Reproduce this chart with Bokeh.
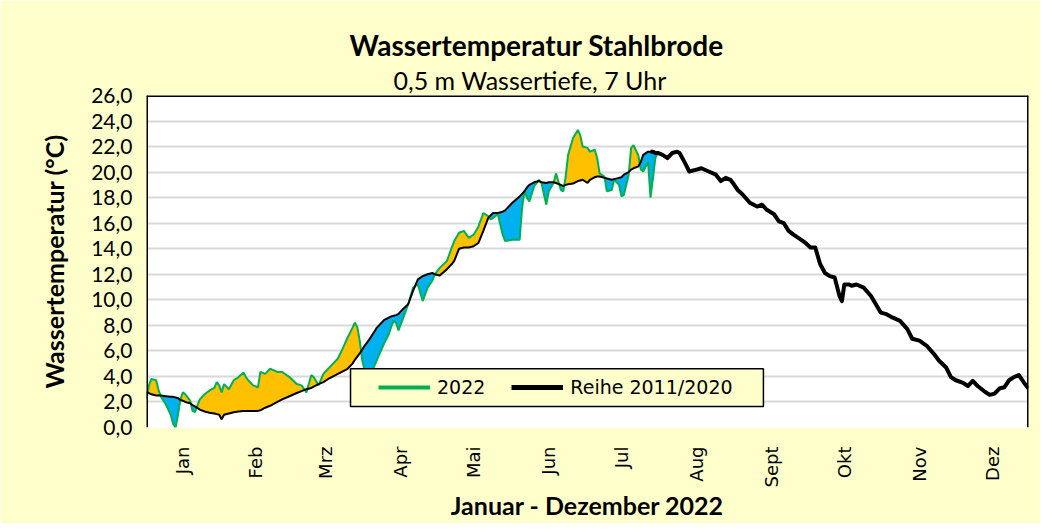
import numpy as np
from bokeh.plotting import figure
from bokeh.models import Range1d, FixedTicker, Legend, LegendItem, BoxAnnotation, Span, Title
from bokeh.embed import file_html
from bokeh.resources import INLINE

# ---------------- data ----------------
months = ["Jan", "Feb", "Mrz", "Apr", "Mai", "Jun", "Jul", "Aug", "Sept", "Okt", "Nov", "Dez"]
month_ticks = [16, 46, 75, 106, 136, 167, 197, 228, 259, 289, 320, 350]

# day of year for the period with 2022 measurements
days_2022 = [1, 2, 3, 5, 6, 7, 9, 11, 12, 13,
             14, 15, 16, 17, 19, 20, 21, 23, 25, 27,
             29, 30, 31, 32, 33, 35, 37, 39, 41, 42,
             43, 45, 47, 48, 50, 52, 55, 57, 60, 63,
             65, 67, 69, 70, 72, 74, 76, 78, 80, 82,
             84, 86, 87, 88, 89, 90, 91, 93, 95, 96,
             99, 101, 102, 103, 104, 105, 107, 109, 111, 113,
             115, 117, 119, 120, 122, 125, 127, 128, 130, 132,
             134, 136, 138, 140, 142, 143, 144, 146, 148, 149,
             152, 155, 156, 157, 158, 159, 161, 163, 164, 166,
             167, 169, 170, 172, 173, 174, 175, 177, 179, 180,
             181, 183, 184, 186, 187, 188, 190, 191, 193, 194,
             196, 197, 198, 200, 201, 202, 204, 205, 206, 208,
             209, 210, 211, 212]

temp_2022 = [2.2, 3.3, 3.8, 3.7, 2.9, 2.4, 1.8, 1.0, 0.3, 0.0,
             1.0, 2.2, 2.75, 2.6, 2.1, 1.3, 1.2, 2.2, 2.6, 2.9,
             3.1, 3.55, 3.3, 2.75, 3.4, 3.0, 3.7, 3.95, 4.3, 3.95,
             3.7, 3.3, 3.15, 4.35, 4.2, 4.6, 4.35, 4.35, 3.95, 3.4,
             3.3, 2.75, 4.1, 3.95, 3.3, 4.2, 4.6, 5.0, 5.4, 6.2,
             7.05, 7.8, 8.2, 7.85, 6.8, 5.3, 4.5, 4.1, 4.8, 5.25,
             6.55, 7.3, 7.9, 8.35, 8.2, 7.6, 8.6, 9.65, 10.95, 11.2,
             9.9, 10.95, 11.5, 12.0, 12.5, 13.05, 14.1, 14.6, 15.25, 15.4,
             14.85, 15.1, 15.75, 16.8, 16.55, 16.3, 16.4, 16.7, 15.1, 14.6,
             14.7, 14.7, 17.2, 18.5, 18.0, 17.7, 18.9, 19.4, 19.15, 17.45,
             18.5, 19.15, 19.9, 18.6, 18.5, 19.65, 21.35, 22.65, 23.3, 22.9,
             22.0, 21.9, 21.6, 21.75, 21.1, 19.9, 19.65, 18.5, 18.6, 19.4,
             19.0, 18.1, 18.2, 19.8, 21.9, 22.1, 21.3, 20.2, 20.05, 20.8,
             18.0, 19.5, 21.1, 21.5]

# long-term series 2011/2020 on the same days
ref_2022_period = [2.8, 2.7, 2.6, 2.5, 2.5, 2.5, 2.45, 2.4, 2.4, 2.35,
                   2.3, 2.15, 2.1, 2.0, 1.9, 1.75, 1.65, 1.4, 1.25, 1.15,
                   1.1, 1.05, 1.0, 0.65, 1.0, 1.1, 1.2, 1.25, 1.3, 1.3,
                   1.3, 1.3, 1.3, 1.35, 1.55, 1.7, 2.0, 2.2, 2.45, 2.7,
                   2.85, 3.0, 3.1, 3.2, 3.4, 3.55, 3.8, 4.0, 4.2, 4.4,
                   4.6, 5.0, 5.3, 5.55, 5.8, 6.1, 6.4, 6.9, 7.5, 7.8,
                   8.4, 8.6, 8.7, 8.75, 8.8, 8.9, 9.3, 9.65, 10.7, 11.6,
                   11.85, 12.0, 12.1, 12.0, 11.9, 12.4, 12.8, 13.05, 14.0, 14.1,
                   14.1, 14.2, 14.45, 15.4, 16.4, 16.6, 16.8, 16.8, 16.9, 17.0,
                   17.6, 18.1, 18.3, 18.5, 18.8, 19.0, 19.2, 19.3, 19.2, 19.15,
                   19.2, 19.2, 19.15, 19.0, 18.9, 19.0, 19.05, 19.1, 19.3, 19.35,
                   19.4, 19.15, 19.4, 19.6, 19.65, 19.65, 19.55, 19.5, 19.4, 19.45,
                   19.55, 19.6, 19.8, 20.0, 20.2, 20.3, 20.45, 20.8, 21.35, 21.6,
                   21.6, 21.6, 21.5, 21.5]

# long-term series for the rest of the year
days_rest = [214, 216, 218, 220, 221, 223, 225, 228, 230, 233,
             236, 238, 240, 242, 243, 245, 247, 250, 253, 255,
             257, 260, 262, 264, 266, 268, 270, 273, 275, 277,
             279, 281, 283, 285, 287, 288, 289, 291, 292, 294,
             297, 300, 302, 304, 306, 309, 312, 315, 317, 320,
             323, 326, 328, 331, 333, 335, 338, 340, 342, 344,
             347, 349, 351, 353, 355, 357, 359, 361, 363, 365]
ref_rest = [21.35, 21.1, 21.5, 21.6, 21.5, 20.8, 20.05, 20.2, 20.3, 20.05,
            19.8, 19.3, 19.55, 19.4, 19.15, 18.6, 18.25, 17.6, 17.3, 17.45,
            17.05, 16.7, 16.15, 16.0, 15.4, 15.1, 14.85, 14.45, 14.1, 14.1,
            12.8, 12.1, 11.85, 11.75, 10.3, 9.9, 11.2, 11.2, 11.1, 11.2,
            10.95, 10.3, 9.65, 9.0, 8.9, 8.6, 8.35, 7.7, 6.95, 6.8,
            6.4, 5.75, 5.25, 4.7, 3.95, 3.7, 3.5, 3.25, 3.65, 3.25,
            2.8, 2.55, 2.65, 3.05, 3.15, 3.7, 3.95, 4.1, 3.55, 3.05]

y_ticks = list(range(0, 27, 2))

# ---------------- helpers ----------------
def with_crossings(x, g, r):
    xs, gs, rs = [x[0]], [g[0]], [r[0]]
    for i in range(1, len(x)):
        d0 = g[i - 1] - r[i - 1]
        d1 = g[i] - r[i]
        if d0 * d1 < 0:
            t = d0 / (d0 - d1)
            xc = x[i - 1] + t * (x[i] - x[i - 1])
            yc = r[i - 1] + t * (r[i] - r[i - 1])
            xs.append(xc); gs.append(yc); rs.append(yc)
        xs.append(x[i]); gs.append(g[i]); rs.append(r[i])
    return np.array(xs), np.array(gs), np.array(rs)

BG = "#FFFFCC"
ORANGE = "#FFC000"
BLUE = "#00B0F0"
GREEN = "#00B050"

p = figure(width=1040, height=523,
           x_range=Range1d(1, 365), y_range=Range1d(0, 26),
           output_backend="svg", toolbar_location=None,
           min_border_left=146, min_border_right=12,
           min_border_top=95, min_border_bottom=96,
           background_fill_color="white", border_fill_color=BG)
p.styles = {"outline": "1.5px solid black", "outline-offset": "-3px"}

xs, gs, rs = with_crossings(days_2022, temp_2022, ref_2022_period)
p.varea(x=xs, y1=rs, y2=np.maximum(gs, rs), fill_color=ORANGE)
p.varea(x=xs, y1=np.minimum(gs, rs), y2=rs, fill_color=BLUE)

p.line(days_2022, temp_2022, line_color=GREEN, line_width=2)

# long-term line: thin during the 2022 period, thick afterwards
p.line(days_2022, ref_2022_period, line_color="black", line_width=2)
p.line(days_2022[-4:] + days_rest, ref_2022_period[-4:] + ref_rest,
       line_color="black", line_width=4, line_join="round")

# axes
p.xaxis.ticker = FixedTicker(ticks=month_ticks)
p.xaxis.major_label_overrides = {t: m for t, m in zip(month_ticks, months)}
p.xaxis.major_label_orientation = np.pi / 2
p.xaxis.major_label_text_font = "DejaVu Sans"
p.xaxis.major_label_text_font_size = "18px"
p.xaxis.major_label_text_color = "black"
p.xaxis.major_label_standoff = 13
p.xaxis.axis_line_color = None
p.xaxis.major_tick_line_color = None
p.xaxis.minor_tick_line_color = None
p.xaxis.axis_label = "Januar - Dezember 2022"
p.xaxis.axis_label_text_font = "Lato"
p.xaxis.axis_label_text_font_style = "bold"
p.xaxis.axis_label_text_font_size = "25px"
p.xaxis.axis_label_text_color = "black"
p.xaxis.axis_label_text_baseline = "bottom"
p.xaxis.axis_label_standoff = 0

p.yaxis.ticker = FixedTicker(ticks=y_ticks)
p.yaxis.major_label_overrides = {t: f"{t},0" for t in y_ticks}
p.yaxis.major_label_text_font = "Lato"
p.yaxis.major_label_text_font_size = "21px"
p.yaxis.major_label_text_color = "black"
p.yaxis.major_label_standoff = 8
p.yaxis.axis_line_color = None
p.yaxis.major_tick_line_color = None
p.yaxis.minor_tick_line_color = None
p.yaxis.axis_label = "Wassertemperatur (°C)"
p.yaxis.axis_label_text_font = "Lato"
p.yaxis.axis_label_text_font_style = "bold"
p.yaxis.axis_label_text_font_size = "25px"
p.yaxis.axis_label_text_color = "black"
p.yaxis.axis_label_standoff = 19

p.xgrid.visible = False
p.ygrid.ticker = FixedTicker(ticks=y_ticks)
p.ygrid.grid_line_color = "#D9D9D9"
p.ygrid.grid_line_width = 2

p.outline_line_color = None
for loc, dim in [(1, "height"), (365, "height"), (26, "width")]:
    p.add_layout(Span(location=loc, dimension=dim, line_color="black", line_width=3))

# titles (subtitle first = closest to the plot)
p.add_layout(Title(text="0,5 m Wassertiefe, 7 Uhr", align="left", offset=247,
                   text_font="Lato", text_font_style="normal", text_font_size="25px",
                   text_color="black", standoff=2), "above")
p.add_layout(Title(text="Wassertemperatur Stahlbrode", align="left", offset=203,
                   text_font="Lato", text_font_style="bold", text_font_size="28px",
                   text_color="black", standoff=0), "above")

# legend box
p.add_layout(BoxAnnotation(left=85.2, right=255.6, bottom=1.64, top=4.61,
                           fill_color=BG, fill_alpha=1, line_color="black",
                           line_alpha=1, line_width=1.5))
lg = p.line([1], [np.nan], line_color=GREEN, line_width=4)
lb = p.line([1], [np.nan], line_color="black", line_width=5)
legend = Legend(items=[LegendItem(label="2022", renderers=[lg]),
                       LegendItem(label="Reihe 2011/2020", renderers=[lb])],
                location=(232, 29), orientation="horizontal",
                padding=0, margin=0, spacing=26, label_standoff=7,
                glyph_width=52, glyph_height=22, label_height=22,
                label_text_font="DejaVu Sans", label_text_font_size="19px",
                label_text_color="black",
                background_fill_alpha=0, border_line_alpha=0)
p.add_layout(legend)

open("out.html", "w").write(file_html(p, INLINE))
